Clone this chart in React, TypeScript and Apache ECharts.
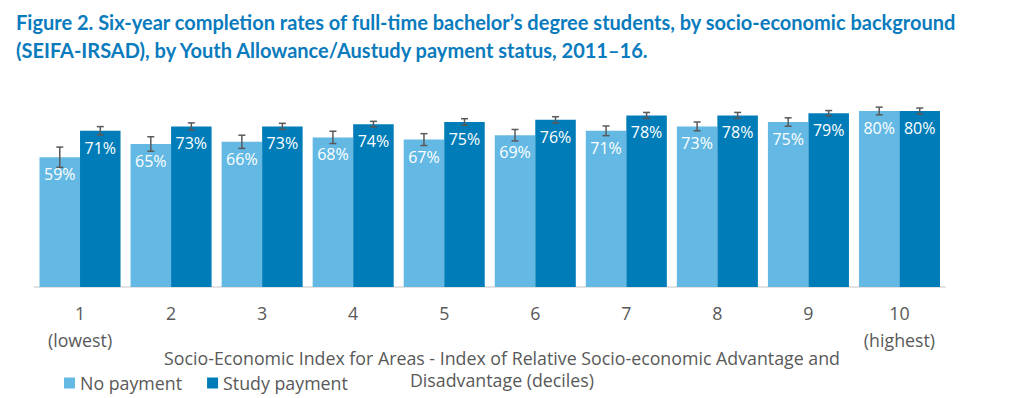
import React, { useEffect, useRef } from "react";
import * as echarts from "echarts";

const categories = ["1\n(lowest)", "2", "3", "4", "5", "6", "7", "8", "9", "10\n(highest)"];
const seriesNames = ["No payment", "Study payment"];
const noPayment = [59, 65, 66, 68, 67, 69, 71, 73, 75, 80];
const studyPayment = [71, 73, 73, 74, 75, 76, 78, 78, 79, 80];
const noPaymentErr = [4.6, 3.3, 3.0, 2.8, 2.7, 2.6, 2.2, 2.0, 1.9, 1.75];
const studyPaymentErr = [1.9, 1.6, 1.4, 1.3, 1.5, 1.4, 1.35, 1.35, 1.2, 1.35];
const titleText =
  "Figure 2. Six-year completion rates of full-time bachelor\u2019s degree students, by socio-economic background\n(SEIFA-IRSAD), by Youth Allowance/Austudy payment status, 2011\u201316.";
const axisTitle =
  "Socio-Economic Index for Areas - Index of Relative Socio-economic Advantage and\nDisadvantage (deciles)";

const LIGHT = "#63B9E4";
const DARK = "#007DB8";
const GREY = "#595959";
const FONT = "'Open Sans', sans-serif";
const TFONT = "Lato, sans-serif";
const FS = 17.8;
const GAP = 0.11;

export default function App() {
  const ref = useRef<HTMLDivElement>(null);
  useEffect(() => {
    document.body.style.margin = "0";
    const chart = echarts.init(ref.current!, null, { renderer: "svg" });
    const errData: number[][] = [];
    noPayment.forEach((v, i) => errData.push([i, v - noPaymentErr[i], v + noPaymentErr[i], 0]));
    studyPayment.forEach((v, i) => errData.push([i, v - studyPaymentErr[i], v + studyPaymentErr[i], 1]));

    const barLabel = {
      show: true,
      position: "insideTop",
      distance: 9,
      color: "#ffffff",
      fontSize: 16,
      fontFamily: FONT,
      formatter: (p: any) => Math.round(p.value) + "%",
    };

    chart.setOption({
      animation: false,
      textStyle: { fontFamily: FONT },
      title: {
        text: titleText,
        left: 11,
        top: 3,
        textStyle: { color: "#0A7BBD", fontSize: 20, fontWeight: "bold", lineHeight: 28, fontFamily: TFONT },
      },
      legend: {
        data: seriesNames,
        left: 59,
        top: 369,
        icon: "rect",
        itemWidth: 11,
        itemHeight: 11,
        itemGap: 25,
        textStyle: { color: GREY, fontSize: FS, fontFamily: FONT },
      },
      grid: { left: 34.5, right: 77, top: 67, bottom: 111 },
      xAxis: {
        type: "category",
        data: categories,
        axisLine: { lineStyle: { color: "#D9D9D9", width: 1.5 } },
        axisTick: { show: false },
        axisLabel: { interval: 0, color: GREY, fontSize: FS, lineHeight: 27, margin: 12, fontFamily: FONT },
      },
      yAxis: { type: "value", min: 0, max: 100, show: false, splitLine: { show: false } },
      graphic: [
        {
          type: "text",
          x: 502,
          y: 347,
          style: {
            text: axisTitle,
            textAlign: "center",
            fill: GREY,
            fontSize: FS,
            lineHeight: 22,
            fontFamily: FONT,
          },
        },
      ],
      series: [
        {
          name: seriesNames[0],
          type: "bar",
          data: noPayment,
          barGap: "0%",
          barCategoryGap: GAP * 100 + "%",
          itemStyle: { color: LIGHT },
          label: barLabel,
        },
        {
          name: seriesNames[1],
          type: "bar",
          data: studyPayment,
          itemStyle: { color: DARK },
          label: barLabel,
        },
        {
          type: "custom",
          name: "err",
          data: errData,
          z: 10,
          renderItem: (params: any, api: any) => {
            const cat = api.value(0);
            const lo = api.value(1);
            const hi = api.value(2);
            const s = api.value(3);
            const w = api.size([1, 0])[0];
            const bw = (w * (1 - GAP)) / 2;
            const pHi = api.coord([cat, hi]);
            const pLo = api.coord([cat, lo]);
            const x = pHi[0] + (s === 0 ? -bw / 2 : bw / 2);
            const cap = 3.5;
            const style = { stroke: GREY, lineWidth: 1.5 };
            return {
              type: "group",
              children: [
                { type: "line", shape: { x1: x, y1: pHi[1], x2: x, y2: pLo[1] }, style },
                { type: "line", shape: { x1: x - cap, y1: pHi[1], x2: x + cap, y2: pHi[1] }, style },
                { type: "line", shape: { x1: x - cap, y1: pLo[1], x2: x + cap, y2: pLo[1] }, style },
              ],
            };
          },
        },
      ],
    });
    return () => chart.dispose();
  }, []);
  return <div ref={ref} style={{ width: 1022, height: 398 }} />;
}
